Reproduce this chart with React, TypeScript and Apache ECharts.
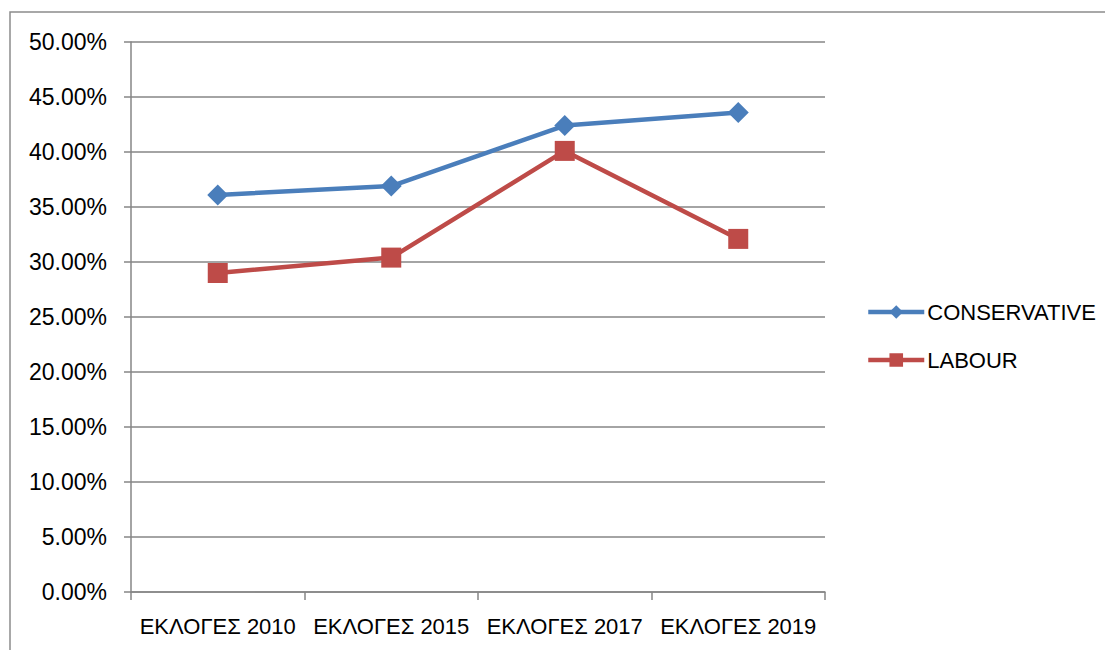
import React, { useEffect, useRef } from "react";
import * as echarts from "echarts";

const categories = ["ΕΚΛΟΓΕΣ 2010", "ΕΚΛΟΓΕΣ 2015", "ΕΚΛΟΓΕΣ 2017", "ΕΚΛΟΓΕΣ 2019"];
const conservative = [0.361, 0.369, 0.424, 0.436];
const labour = [0.29, 0.304, 0.401, 0.321];

export default function App() {
  const ref = useRef<HTMLDivElement>(null);
  useEffect(() => {
    if (!ref.current) return;
    const chart = echarts.init(ref.current, null, { renderer: "svg" });
    const font = "Liberation Sans, Arial, sans-serif";
    chart.setOption({
      animation: false,
      backgroundColor: "#ffffff",
      grid: { left: 131, right: 280, top: 42, bottom: 58 },
      graphic: [
        {
          type: "rect",
          shape: { x: 10, y: 12, width: 1200, height: 800 },
          style: { fill: "none", stroke: "#8c8c8c", lineWidth: 1.5 },
          silent: true,
        },
      ],
      legend: {
        orient: "vertical",
        left: 861,
        top: 296,
        itemWidth: 56,
        itemHeight: 17,
        itemGap: 26,
        textStyle: { fontFamily: font, fontSize: 22, color: "#000", padding: [0, 0, 0, -2] },
        data: [
          { name: "CONSERVATIVE", lineStyle: { width: 4.5 } },
          { name: "LABOUR", lineStyle: { width: 4.5 } },
        ],
      },
      xAxis: {
        type: "category",
        data: categories,
        boundaryGap: true,
        axisLine: { show: true, lineStyle: { color: "#868686", width: 1.5 } },
        axisTick: { show: true, length: 8, lineStyle: { color: "#868686", width: 1.5 } },
        axisLabel: { fontFamily: font, fontSize: 22, color: "#000", margin: 23, interval: 0 },
        splitLine: { show: false },
      },
      yAxis: {
        type: "value",
        min: 0,
        max: 0.5,
        interval: 0.05,
        axisLine: { show: true, lineStyle: { color: "#868686", width: 1.5 } },
        axisTick: { show: true, length: 7, lineStyle: { color: "#868686", width: 1.5 } },
        axisLabel: {
          fontFamily: font,
          fontSize: 23,
          color: "#000",
          margin: 24,
          formatter: (v: number) => (v * 100).toFixed(2) + "%",
        },
        splitLine: { show: true, lineStyle: { color: "#868686", width: 1.5 } },
      },
      series: [
        {
          name: "CONSERVATIVE",
          type: "line",
          data: conservative,
          symbol: "diamond",
          symbolSize: 21,
          itemStyle: { color: "#4A7EBB" },
          lineStyle: { color: "#4A7EBB", width: 4.5 },
        },
        {
          name: "LABOUR",
          type: "line",
          data: labour,
          symbol: "rect",
          symbolSize: 20,
          itemStyle: { color: "#BE4B48" },
          lineStyle: { color: "#BE4B48", width: 4.5 },
        },
      ],
    });
    return () => chart.dispose();
  }, []);
  return (
    <div
      ref={ref}
      style={{ position: "absolute", left: 0, top: 0, width: 1105, height: 650 }}
    />
  );
}
